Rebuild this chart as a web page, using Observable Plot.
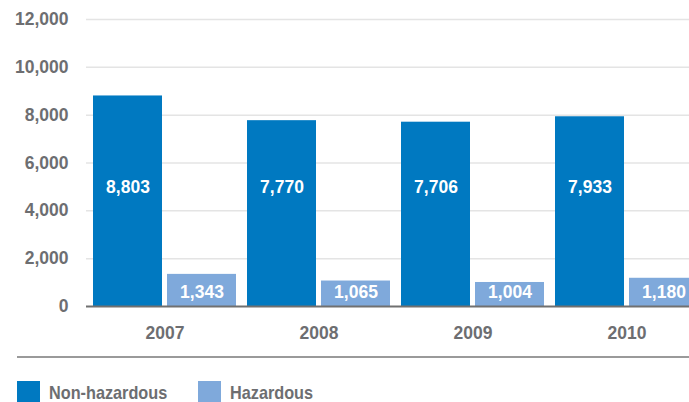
<!DOCTYPE html>
<html>
<head>
<meta charset="utf-8">
<script src="https://cdn.jsdelivr.net/npm/d3@7"></script>
<script src="https://cdn.jsdelivr.net/npm/@observablehq/plot@0.6"></script>
<style>
  html, body { margin: 0; padding: 0; background: #fff; overflow: hidden; }
  #wrap { width: 689px; height: 402px; overflow: hidden; position: relative; }
  #wrap svg { position: absolute; left: 0; top: 0; }
  .legend {
    position: absolute; left: 17px; top: 356px; right: 0;
    border-top: 2px solid #9a9a9a;
    padding-top: 23px;
    display: flex; align-items: center;
    font-family: "Liberation Sans", Arial, sans-serif;
    font-weight: bold; font-size: 19px; color: #6d6e71;
  }
  .legend .item { display: flex; align-items: center; width: 181px; white-space: nowrap; }
  .legend .sw { width: 23px; height: 23px; margin-right: 9px; flex: none; }
  .legend .lbl { display: inline-block; transform: scaleX(0.855); transform-origin: 0 50%; }
</style>
</head>
<body>
<div id="wrap"></div>
<script>
// Waste generated per year, tonnes
const years = ["2007", "2008", "2009", "2010"];
const nonHazardous = [8803, 7770, 7706, 7933];
const hazardous = [1343, 1065, 1004, 1180];
const seriesNames = ["Non-hazardous", "Hazardous"];
const seriesColors = ["#0079c1", "#7fa9db"];
const yTicks = [0, 2000, 4000, 6000, 8000, 10000, 12000];

const nonHaz = years.map((year, i) => ({year, value: nonHazardous[i]}));
const haz = years.map((year, i) => ({year, value: hazardous[i]}));

const textGray = "#6d6e71";
const fmt = d3.format(",");

const chart = Plot.plot({
  width: 705,
  height: 352,
  marginLeft: 86,
  marginRight: 0,
  marginTop: 19,
  marginBottom: 46,
  style: {
    fontFamily: "'Liberation Sans', Arial, sans-serif",
    fontSize: "17.5px",
    fontWeight: "bold",
    color: textGray,
    background: "transparent",
    maxWidth: "none"
  },
  x: {type: "band", domain: years, paddingInner: 0.073, paddingOuter: 0.0425},
  y: {domain: [0, 12000]},
  marks: [
    Plot.ruleY(yTicks.filter((d) => d > 0), {stroke: "#e4e4e4", strokeWidth: 1.5}),
    Plot.barY(nonHaz, {x: "year", y: "value", fill: seriesColors[0], insetRight: 74}),
    Plot.barY(haz, {x: "year", y: "value", fill: seriesColors[1], insetLeft: 74}),
    Plot.ruleY([0], {stroke: "#707070", strokeWidth: 2}),
    Plot.text(nonHaz, {x: "year", y: 5000, dx: -37, text: (d) => fmt(d.value), fill: "#fff"}),
    Plot.text(haz, {x: "year", y: 0, dx: 37, dy: -14, text: (d) => fmt(d.value), fill: "#fff"}),
    Plot.axisY({ticks: yTicks, tickFormat: fmt, tickSize: 0, tickPadding: 18, label: null}),
    Plot.axisX({tickSize: 0, tickPadding: 20, label: null})
  ]
});

const wrap = document.getElementById("wrap");
wrap.appendChild(chart);

const legend = document.createElement("div");
legend.className = "legend";
seriesNames.forEach((name, i) => {
  const item = document.createElement("div");
  item.className = "item";
  const sw = document.createElement("span");
  sw.className = "sw";
  sw.style.background = seriesColors[i];
  const label = document.createElement("span");
  label.className = "lbl";
  label.textContent = name;
  item.appendChild(sw);
  item.appendChild(label);
  legend.appendChild(item);
});
wrap.appendChild(legend);
</script>
</body>
</html>
